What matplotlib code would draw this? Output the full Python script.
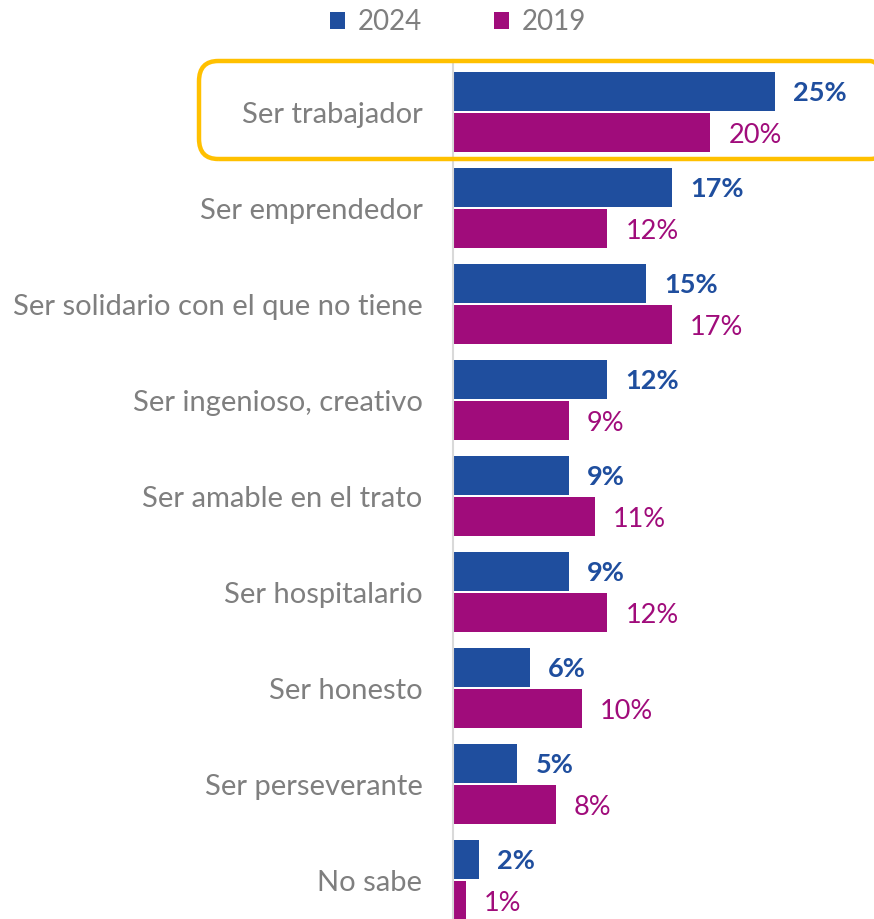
import matplotlib.pyplot as plt
from matplotlib.patches import FancyBboxPatch

plt.rcParams['font.family'] = ['Lato', 'DejaVu Sans']

# datos
categorias = ['Ser trabajador', 'Ser emprendedor', 'Ser solidario con el que no tiene',
              'Ser ingenioso, creativo', 'Ser amable en el trato', 'Ser hospitalario',
              'Ser honesto', 'Ser perseverante', 'No sabe']
valores_2024 = [25, 17, 15, 12, 9, 9, 6, 5, 2]
valores_2019 = [20, 12, 17, 9, 11, 12, 10, 8, 1]

AZUL = '#1F4E9E'
MAGENTA = '#A00C7B'
GRIS = '#7F7F7F'

W, H = 874, 919
fig = plt.figure(figsize=(W / 100, H / 100), dpi=100)
ax = fig.add_axes([453 / W, 0, 421 / W, 1 - 60 / H])

y = list(range(len(categorias)))
alto = 0.41
b1 = ax.barh([i - 0.215 for i in y], valores_2024, height=alto, color=AZUL, label='2024')
b2 = ax.barh([i + 0.215 for i in y], valores_2019, height=alto, color=MAGENTA, label='2019')

ax.set_xlim(0, 421 / 12.87)
ax.set_ylim(8.406, -0.542)

# etiquetas de valor
for i, v in enumerate(valores_2024):
    ax.annotate(f'{v}%', (v, i - 0.215), xytext=(13, -1), textcoords='offset points',
                va='center', ha='left', fontsize=19.5, fontweight='bold', color=AZUL)
for i, v in enumerate(valores_2019):
    ax.annotate(f'{v}%', (v, i + 0.215), xytext=(13, -2), textcoords='offset points',
                va='center', ha='left', fontsize=19.5, color=MAGENTA)

ax.set_yticks(y)
ax.set_yticklabels(categorias, fontsize=21, color=GRIS)
ax.tick_params(axis='y', length=0, pad=22)
ax.set_xticks([])
for s in ['top', 'right', 'bottom']:
    ax.spines[s].set_visible(False)
ax.spines['left'].set_color('#D9D9D9')
ax.spines['left'].set_linewidth(1.5)

# leyenda
fig.legend(handles=[b1, b2], loc='center', bbox_to_anchor=(458 / W, 1 - 22 / H),
           ncol=2, frameon=False, fontsize=20, labelcolor=GRIS,
           handlelength=0.55, handleheight=0.55, handletextpad=0.45, columnspacing=2.6)

# recuadro resaltado
caja = FancyBboxPatch((199 / W, 1 - 159 / H), 690 / W, 98 / H,
                      boxstyle='round,pad=0,rounding_size=0.022',
                      transform=fig.transFigure, fill=False,
                      edgecolor='#FFC000', linewidth=3.2, clip_on=False)
fig.patches.append(caja)

plt.savefig('out.png', dpi=100)
plt.close()
